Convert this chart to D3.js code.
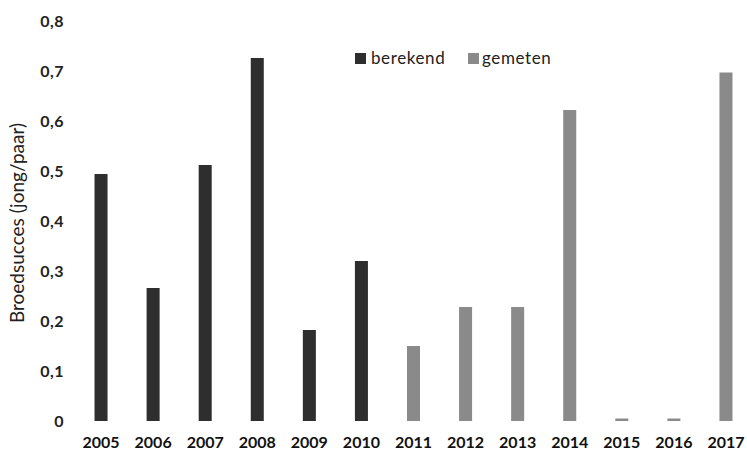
<!DOCTYPE html>
<html>
<head>
<meta charset="utf-8">
<script src="https://cdn.jsdelivr.net/npm/d3@7"></script>
<style>
  html, body { margin: 0; padding: 0; background: #fff; }
  svg { display: block; font-family: Lato, "Open Sans", sans-serif; }
</style>
</head>
<body>
<svg id="chart" width="747" height="457"></svg>
<script>
// Broedsucces per jaar: berekend (2005-2010) en gemeten (2011-2017)
const years = ["2005","2006","2007","2008","2009","2010","2011","2012","2013","2014","2015","2016","2017"];
const berekend = [0.494, 0.266, 0.512, 0.726, 0.182, 0.32, null, null, null, null, null, null, null];
const gemeten  = [null, null, null, null, null, null, 0.15, 0.228, 0.228, 0.622, 0.005, 0.005, 0.697];
const yTicks = [0, 0.1, 0.2, 0.3, 0.4, 0.5, 0.6, 0.7, 0.8];
const seriesNames = ["berekend", "gemeten"];
const seriesColors = ["#2e2e2e", "#8a8a8a"];

const svg = d3.select("#chart");

const x = d3.scaleBand().domain(years).range([75, 752]).paddingInner(0.75).paddingOuter(0.375);
const y = d3.scaleLinear().domain([0, 0.8]).range([421, 21]);

const fmt = d => d === 0 ? "0" : d3.format(".1f")(d).replace(".", ",");

// bars
const rows = years.map((yr, i) => ({ yr, b: berekend[i], g: gemeten[i] }));
[["b", 0], ["g", 1]].forEach(([key, si]) => {
  svg.append("g").selectAll("rect")
    .data(rows.filter(d => d[key] != null))
    .join("rect")
    .attr("x", d => x(d.yr))
    .attr("width", x.bandwidth())
    .attr("y", d => y(d[key]))
    .attr("height", d => y(0) - y(d[key]))
    .attr("fill", seriesColors[si]);
});

// y axis (labels only)
const yAxis = svg.append("g")
  .attr("transform", "translate(66,0)")
  .call(d3.axisLeft(y).tickValues(yTicks).tickFormat(fmt).tickSize(0).tickPadding(2));
yAxis.select(".domain").remove();
yAxis.selectAll("text").attr("font-size", 16).attr("font-weight", 700).attr("fill", "#222")
  .attr("letter-spacing", 0.5).attr("font-family", "Lato, sans-serif");

// x axis (labels only)
const xAxis = svg.append("g")
  .attr("transform", "translate(0,437)")
  .call(d3.axisBottom(x).tickSize(0).tickPadding(0));
xAxis.select(".domain").remove();
xAxis.selectAll("text").attr("font-size", 16).attr("font-weight", 700).attr("fill", "#111")
  .attr("font-family", "Lato, sans-serif");

// y axis title
svg.append("text")
  .attr("transform", "translate(24,223) rotate(-90)")
  .attr("text-anchor", "middle")
  .attr("font-size", 19)
  .attr("fill", "#222")
  .text("Broedsucces (jong/paar)");

// legend
const legendX = [355, 468];
const legend = svg.append("g");
seriesNames.forEach((name, i) => {
  const g = legend.append("g").attr("transform", `translate(${legendX[i]},53)`);
  g.append("rect").attr("width", 11).attr("height", 11).attr("fill", seriesColors[i]);
  g.append("text").attr("x", i === 0 ? 16 : 14).attr("y", 11).attr("font-size", 17)
    .attr("letter-spacing", 0.6).attr("fill", "#222").text(name);
});
</script>
</body>
</html>
